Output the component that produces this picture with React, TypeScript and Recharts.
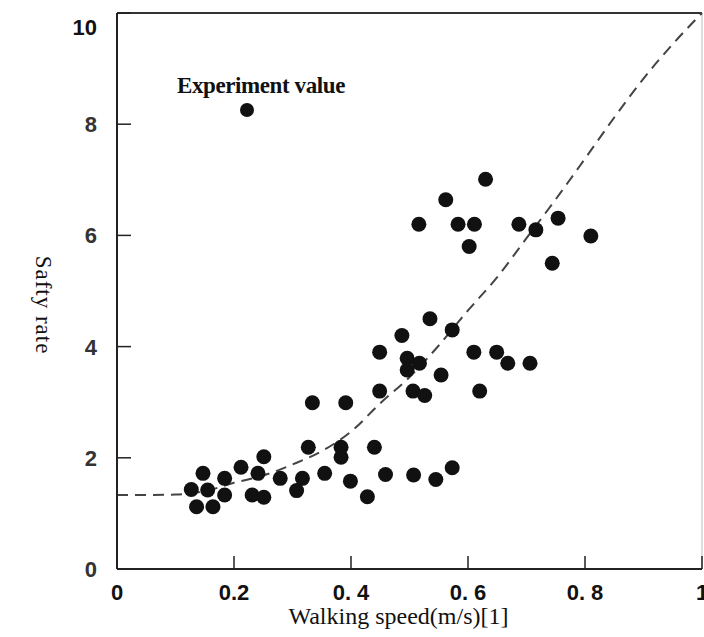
import React from 'react';
import {
  ComposedChart,
  Scatter,
  Line,
  XAxis,
  YAxis,
  ReferenceLine,
  Legend
} from 'recharts';

// measured points: walking speed (m/s) and safety rate
const speeds = [
  0.127, 0.136, 0.147, 0.155, 0.164, 0.184, 0.184, 0.212, 0.231, 0.241,
  0.251, 0.251, 0.279, 0.307, 0.317, 0.327, 0.334, 0.355, 0.383, 0.383,
  0.391, 0.399, 0.428, 0.44, 0.449, 0.449, 0.459, 0.487, 0.496, 0.496,
  0.506, 0.507, 0.517, 0.526, 0.535, 0.545, 0.554, 0.573, 0.573, 0.61,
  0.62, 0.649, 0.668, 0.706, 0.516, 0.562, 0.583, 0.602, 0.611, 0.63,
  0.687, 0.716, 0.744, 0.754, 0.81
];
const rates = [
  1.43, 1.12, 1.72, 1.42, 1.12, 1.63, 1.33, 1.83, 1.33, 1.72,
  2.02, 1.29, 1.63, 1.41, 1.63, 2.19, 2.99, 1.72, 2.19, 2.01,
  2.99, 1.58, 1.3, 2.19, 3.9, 3.2, 1.7, 4.2, 3.79, 3.58,
  3.2, 1.69, 3.7, 3.12, 4.5, 1.61, 3.49, 4.3, 1.82, 3.9,
  3.2, 3.9, 3.7, 3.7, 6.2, 6.64, 6.2, 5.8, 6.2, 7.01,
  6.2, 6.1, 5.5, 6.31, 5.99
];

// fitted (dashed) curve
const curveSpeeds = [0, 0.05, 0.1, 0.15, 0.2, 0.25, 0.3, 0.35, 0.4, 0.45, 0.5, 0.55, 0.6, 0.65, 0.7, 0.75, 0.8, 0.85, 0.9, 0.95, 1];
const curveRates = [1.33, 1.33, 1.34, 1.4, 1.55, 1.68, 1.88, 2.12, 2.47, 2.98, 3.45, 4.02, 4.65, 5.25, 5.95, 6.65, 7.38, 8.12, 8.82, 9.44, 10];

const xTicks = [0, 0.2, 0.4, 0.6, 0.8, 1];
const xTickLabels = ['0', '0.2', '0. 4', '0. 6', '0. 8', '1'];
const yTicks = [0, 2, 4, 6, 8, 10];

const points = speeds.map((x, i) => ({ x, y: rates[i] }));
const curve = curveSpeeds.map((x, i) => ({ x, y: curveRates[i] }));

const XTick = (props: any) => {
  const { x, y, payload } = props;
  const i = xTicks.indexOf(payload.value);
  return (
    <g>
      <line x1={x} y1={y} x2={x} y2={y - 13} stroke="#222" strokeWidth={1.5} />
      <text
        x={x}
        y={y + 31}
        textAnchor="middle"
        fontFamily="Liberation Sans, Arial, sans-serif"
        fontWeight="bold"
        fontSize={22}
        fill="#111"
      >
        {i >= 0 ? xTickLabels[i] : payload.value}
      </text>
    </g>
  );
};

const YTick = (props: any) => {
  const { x, y, payload } = props;
  const top = payload.value === 10;
  return (
    <g>
      <line x1={x} y1={y} x2={x + 14} y2={y} stroke="#222" strokeWidth={1.5} />
      <text
        x={x - 20}
        y={y + (top ? 14 : 0)}
        dy="0.36em"
        textAnchor="end"
        fontFamily="Liberation Sans, Arial, sans-serif"
        fontWeight="bold"
        fontSize={22}
        fill={top ? '#111' : '#333'}
      >
        {payload.value}
      </text>
    </g>
  );
};

const LegendBox = (props: any) => {
  const item = (props.payload || []).find((p: any) => p.type !== 'none');
  return (
    <div style={{ width: 200, textAlign: 'center' }}>
      <div
        style={{
          fontFamily: 'Liberation Serif, Times New Roman, serif',
          fontWeight: 'bold',
          fontSize: 23,
          lineHeight: 1,
          letterSpacing: -0.4,
          color: '#111'
        }}
      >
        {item ? item.value : ''}
      </div>
      <svg width={200} height={22} style={{ display: 'block' }}>
        <circle cx={86} cy={13} r={7} fill="#111" />
      </svg>
    </div>
  );
};

export default function App() {
  return (
    <div style={{ position: 'absolute', left: 0, top: 0, background: '#fff' }}>
      <ComposedChart
        width={704}
        height={637}
        margin={{ top: 13, right: 2, bottom: 0, left: 0 }}
      >
        <XAxis
          dataKey="x"
          type="number"
          domain={[0, 1]}
          ticks={xTicks}
          interval={0}
          height={68}
          tickSize={0}
          tickMargin={0}
          tickLine={false}
          tick={<XTick />}
          axisLine={{ stroke: '#222', strokeWidth: 2 }}
          label={{
            content: ({ viewBox }: any) => (
              <text
                x={viewBox.x + viewBox.width / 2 - 11}
                y={viewBox.y + 55}
                textAnchor="middle"
                fontFamily="Liberation Serif, Times New Roman, serif"
                fontSize={24}
                fill="#111"
              >
                Walking speed(m/s)[1]
              </text>
            )
          }}
        />
        <YAxis
          dataKey="y"
          type="number"
          domain={[0, 10]}
          ticks={yTicks}
          interval={0}
          width={117}
          tickSize={0}
          tickMargin={0}
          tickLine={false}
          tick={<YTick />}
          axisLine={{ stroke: '#222', strokeWidth: 2 }}
          label={{
            content: ({ viewBox }: any) => {
              const cx = viewBox.x + 36;
              const cy = viewBox.y + viewBox.height / 2 + 14;
              return (
                <text
                  x={cx}
                  y={cy}
                  transform={`rotate(90, ${cx}, ${cy})`}
                  textAnchor="middle"
                  fontFamily="Liberation Serif, Times New Roman, serif"
                  fontSize={23}
                  letterSpacing={1}
                  fill="#111"
                >
                  Safty rate
                </text>
              );
            }
          }}
        />
        <ReferenceLine y={10} stroke="#333" strokeWidth={2} />
        <ReferenceLine x={1} stroke="#bbb" strokeWidth={1} />
        <Line
          data={curve}
          dataKey="y"
          type="monotone"
          stroke="#444"
          strokeWidth={2}
          strokeDasharray="11 7"
          dot={false}
          activeDot={false}
          legendType="none"
          isAnimationActive={false}
        />
        <Scatter
          name="Experiment value"
          data={points}
          dataKey="y"
          fill="#111"
          shape={(p: any) => <circle cx={p.cx} cy={p.cy} r={7.5} fill="#111" />}
          isAnimationActive={false}
        />
        <Legend
          layout="horizontal"
          verticalAlign="middle"
          align="center"
          content={<LegendBox />}
          wrapperStyle={{ position: 'absolute', left: 161, top: 74, width: 200, height: 50 }}
        />
      </ComposedChart>
    </div>
  );
}
